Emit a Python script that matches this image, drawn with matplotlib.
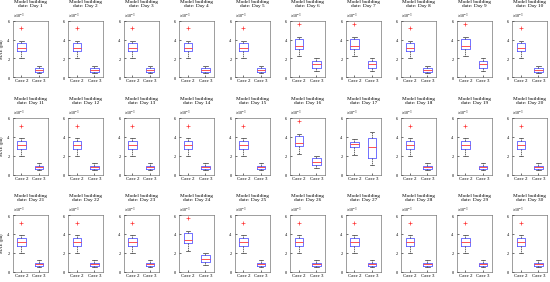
import numpy as np
import matplotlib
matplotlib.use("Agg")
from matplotlib import pyplot as plt
from matplotlib.ticker import ScalarFormatter

plt.rcParams['font.family'] = ['Liberation Serif', 'DejaVu Serif']
plt.rcParams['mathtext.fontset'] = 'stix'

# ---- data (MAE in pu, units of 1e-3) ----
days = list(range(1, 31))
cases = ['Case 2', 'Case 3']

wide_days = [6, 7, 9, 16, 24]

c2_q1  = [2.75] * 30
c2_med = [3.15] * 30
c2_q3  = [3.60] * 30
c2_lo  = [2.00] * 30
c2_hi  = [3.85] * 30
c2_out = [5.2] * 30

c3_q1  = [0.55] * 30
c3_med = [0.75] * 30
c3_q3  = [0.95] * 30
c3_lo  = [0.45] * 30
c3_hi  = [1.20] * 30

for d in wide_days:
    i = d - 1
    c2_q1[i], c2_med[i], c2_q3[i], c2_lo[i], c2_hi[i], c2_out[i] = 3.0, 3.3, 4.1, 2.2, 4.3, 5.7
    c3_q1[i], c3_med[i], c3_q3[i], c3_lo[i], c3_hi[i] = 1.0, 1.35, 1.75, 0.7, 2.0

# day 17 is the odd one
c2_q1[16], c2_med[16], c2_q3[16], c2_lo[16], c2_hi[16], c2_out[16] = 2.9, 3.2, 3.5, 2.1, 3.8, None
c3_q1[16], c3_med[16], c3_q3[16], c3_lo[16], c3_hi[16] = 1.7, 2.87, 3.9, 1.05, 4.55

# ---- figure ----
W, H = 550, 282
fig = plt.figure(figsize=(W / 100, H / 100), dpi=100)

ax_w = 35
ax_h = 56.5
lefts = [12.7 + 55.5 * c for c in range(10)]
tops = [20.7, 118, 215]

for k, d in enumerate(days):
    r, c = divmod(k, 10)
    ax = fig.add_axes([lefts[c] / W, 1 - (tops[r] + ax_h) / H, ax_w / W, ax_h / H])
    i = d - 1
    s2 = dict(med=c2_med[i] * 1e-3, q1=c2_q1[i] * 1e-3, q3=c2_q3[i] * 1e-3,
              whislo=c2_lo[i] * 1e-3, whishi=c2_hi[i] * 1e-3,
              fliers=[] if c2_out[i] is None else [c2_out[i] * 1e-3])
    s3 = dict(med=c3_med[i] * 1e-3, q1=c3_q1[i] * 1e-3, q3=c3_q3[i] * 1e-3,
              whislo=c3_lo[i] * 1e-3, whishi=c3_hi[i] * 1e-3, fliers=[])
    ax.bxp([s2, s3], positions=[1, 2], widths=0.5,
           boxprops=dict(color='#5a5aff', linewidth=0.6),
           medianprops=dict(color='#ff3333', linewidth=0.6),
           whiskerprops=dict(color='#333333', linewidth=0.5, linestyle=(0, (2, 1))),
           capprops=dict(color='#333333', linewidth=0.5),
           flierprops=dict(marker='+', markeredgecolor='#ff3333', markersize=3.2, markeredgewidth=0.5))
    ax.set_xlim(0.5, 2.5)
    ax.set_ylim(0, 6e-3)
    ax.set_yticks([0, 2e-3, 4e-3, 6e-3])
    ax.set_xticks([1, 2])
    ax.set_xticklabels(cases)
    fmt = ScalarFormatter(useMathText=True)
    fmt.set_powerlimits((-3, -3))
    ax.yaxis.set_major_formatter(fmt)
    ax.yaxis.get_offset_text().set_fontsize(3)
    ax.tick_params(labelsize=3.6, length=1.2, width=0.4, direction='in', pad=1.5)
    ax.tick_params(axis='y', labelsize=3.2)
    for sp in ax.spines.values():
        sp.set_linewidth(0.4)
        sp.set_color('#555555')
    ax.set_title('Model building\ndate: Day %d' % d, fontsize=3.8, pad=3, linespacing=1.05)
    if c == 0:
        ax.set_ylabel('MAE (pu)', fontsize=3.4, labelpad=1.5)

fig.savefig('out.png', dpi=100)
